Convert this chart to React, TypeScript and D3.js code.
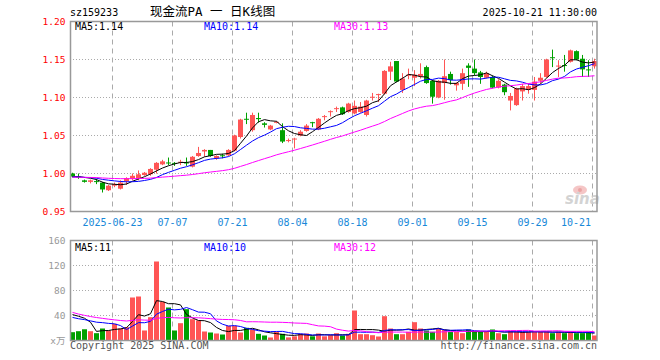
import React from 'react';
import * as d3 from 'd3';

const dates = [
  '2025-06-12','2025-06-13','2025-06-16','2025-06-17','2025-06-18','2025-06-19','2025-06-20',
  '2025-06-23','2025-06-24','2025-06-25','2025-06-26','2025-06-27',
  '2025-06-30','2025-07-01','2025-07-02','2025-07-03','2025-07-04',
  '2025-07-07','2025-07-08','2025-07-09','2025-07-10','2025-07-11',
  '2025-07-14','2025-07-15','2025-07-16','2025-07-17','2025-07-18',
  '2025-07-21','2025-07-22','2025-07-23','2025-07-24','2025-07-25',
  '2025-07-28','2025-07-29','2025-07-30','2025-07-31','2025-08-01',
  '2025-08-04','2025-08-05','2025-08-06','2025-08-07','2025-08-08',
  '2025-08-11','2025-08-12','2025-08-13','2025-08-14','2025-08-15',
  '2025-08-18','2025-08-19','2025-08-20','2025-08-21','2025-08-22',
  '2025-08-25','2025-08-26','2025-08-27','2025-08-28','2025-08-29',
  '2025-09-01','2025-09-02','2025-09-03','2025-09-04','2025-09-05',
  '2025-09-08','2025-09-09','2025-09-10','2025-09-11','2025-09-12',
  '2025-09-15','2025-09-16','2025-09-17','2025-09-18','2025-09-19',
  '2025-09-22','2025-09-23','2025-09-24','2025-09-25','2025-09-26',
  '2025-09-29','2025-09-30',
  '2025-10-09','2025-10-10',
  '2025-10-13','2025-10-14','2025-10-15','2025-10-16','2025-10-17',
  '2025-10-20','2025-10-21',
];

const opens = [
  1.000,0.996,0.991,0.989,0.990,0.988,0.978,0.984,0.980,0.990,
  0.993,0.993,0.998,0.999,1.005,1.012,1.0145,1.014,1.015,1.0145,
  1.009,1.023,1.029,1.031,1.020,1.024,1.024,1.030,1.048,1.072,
  1.057,1.073,1.066,1.058,1.067,1.057,1.043,1.045,1.050,1.056,
  1.0675,1.058,1.075,1.081,1.085,1.087,1.081,1.079,1.081,1.077,
  1.100,1.1035,1.105,1.134,1.148,1.110,1.129,1.126,1.128,1.140,
  1.122,1.100,1.119,1.131,1.116,1.118,1.142,1.138,1.133,1.126,
  1.127,1.113,1.117,1.096,1.090,1.108,1.110,1.110,1.122,1.127,
  1.153,1.141,1.1427,1.147,1.161,1.151,1.137,1.141,
];
const highs = [
  1.001,1.000,0.992,0.992,0.993,0.989,0.985,0.988,0.991,0.995,
  1.000,1.004,1.002,1.007,1.015,1.018,1.021,1.015,1.018,1.021,
  1.023,1.035,1.032,1.031,1.024,1.026,1.032,1.051,1.072,1.080,
  1.080,1.080,1.0675,1.064,1.069,1.066,1.046,1.047,1.057,1.065,
  1.068,1.073,1.077,1.083,1.088,1.088,1.093,1.096,1.094,1.097,
  1.106,1.105,1.136,1.147,1.148,1.132,1.138,1.136,1.145,1.142,
  1.123,1.123,1.150,1.134,1.120,1.138,1.145,1.150,1.135,1.134,
  1.129,1.124,1.118,1.106,1.113,1.118,1.118,1.127,1.132,1.151,
  1.163,1.149,1.156,1.163,1.162,1.156,1.149,1.151,
];
const lows = [
  0.995,0.993,0.988,0.987,0.986,0.975,0.977,0.982,0.979,0.985,
  0.991,0.991,0.997,0.997,1.000,1.011,1.011,1.010,1.011,1.010,
  1.008,1.022,1.022,1.022,1.018,1.020,1.023,1.029,1.046,1.065,
  1.055,1.067,1.0605,1.057,1.066,1.040,1.041,1.033,1.049,1.055,
  1.061,1.057,1.070,1.075,1.081,1.077,1.080,1.078,1.080,1.075,
  1.096,1.094,1.104,1.123,1.120,1.106,1.124,1.115,1.125,1.118,
  1.092,1.099,1.097,1.117,1.109,1.110,1.114,1.129,1.118,1.125,
  1.112,1.112,1.103,1.083,1.089,1.096,1.105,1.096,1.118,1.126,
  1.140,1.127,1.134,1.146,1.149,1.127,1.127,1.138,
];
const closes = [
  0.996,0.995,0.989,0.991,0.989,0.979,0.984,0.986,0.988,0.994,
  0.997,0.999,1.001,1.006,1.014,1.016,1.014,1.013,1.0155,1.014,
  1.022,1.027,1.031,1.023,1.023,1.0235,1.031,1.050,1.071,1.071,
  1.077,1.0715,1.064,1.063,1.068,1.042,1.044,1.046,1.055,1.063,
  1.067,1.072,1.0755,1.082,1.086,1.078,1.092,1.089,1.088,1.096,
  1.101,1.1045,1.135,1.141,1.121,1.125,1.130,1.130,1.131,1.119,
  1.101,1.122,1.128,1.123,1.119,1.132,1.139,1.132,1.127,1.132,
  1.113,1.122,1.107,1.102,1.112,1.115,1.115,1.121,1.126,1.150,
  1.152,1.142,1.142,1.162,1.150,1.137,1.1365,1.148,
];
const volumes = [
  13.3,14.9,18,14.9,11.7,19.2,16,26.7,19.2,21.3,
  68.8,70.4,16,37.3,126.4,61.9,52.8,16,27.7,50.1,
  34.1,32,14.4,12.8,11.2,9.6,23.5,23.5,12.8,20.3,
  17.6,10.7,8,4.8,13.9,10.7,5,6.7,10.7,11.2,
  6.7,11.2,6.7,8.5,11.7,8,10.7,48,10.1,10.1,
  8.5,6.4,38.9,19.2,10.1,10.1,13.9,29.3,19.2,16,
  13.9,19.7,17,13.9,13.9,11.7,17.6,13.9,13.9,13.9,
  17.6,11.7,10.1,15.5,13.9,13.9,13.9,13.9,13.9,13.9,
  11.7,13.9,11.7,13.9,11.7,11.7,13.9,8,
];
// sessions before the visible window (needed for the moving averages)
const priorCloses = [
  0.998,0.996,0.995,0.994,0.995,0.996,0.995,0.994,0.995,0.996,
  0.995,0.994,0.995,0.995,0.996,0.995,0.994,0.995,0.996,0.995,
  0.994,0.995,0.995,0.996,0.995,0.994,0.995,0.996,0.998,
];
const priorVolumes = [
  95,80,72,60,58,55,60,50,
  45,40,38,35,42,36,33,38,34,37,36,36,
  36,32,35,33,
  26,28,34,47,85,
];

const priceTicks = [0.95, 1.0, 1.05, 1.1, 1.15, 1.2];
const volumeTicks = [40, 80, 120, 160];
const tickDates = ['2025-06-23','2025-07-07','2025-07-21','2025-08-04','2025-08-18','2025-09-01','2025-09-15','2025-09-29','2025-10-21'];
const maPeriods = [5, 10, 30];
const priceMaLabels = ['1.14', '1.14', '1.13'];
const volumeMaLabels = ['11', '10', '12'];
const stockCode = 'sz159233';
const title = '现金流PA 一 日K线图';
const timestamp = '2025-10-21 11:30:00';

const RED = '#ff5555';
const GREEN = '#00a000';
const MA_COLORS = ['#000000', '#0000ff', '#ff00ff'];
const GRID = '#aaaaaa';
const FRAME = '#999999';
const MONO = 'DejaVu Sans Mono, monospace';

function movingAvg(vals: number[], prior: number[], n: number): number[] {
  const all = prior.concat(vals);
  const off = prior.length;
  return vals.map((_, i) => d3.mean(all.slice(i + off - n + 1, i + off + 1)) as number);
}

export default function App() {
  const n = dates.length;
  const L = 70, R = 597;
  const step = 6;
  const x = d3.scaleBand<number>().domain(d3.range(n)).range([L, L + step * n]);
  const bw = 5;
  const yP = d3.scaleLinear().domain([0.95, 1.2]).range([211.5, 21.5]);
  const yV = d3.scaleLinear().domain([0, 160]).range([340.5, 240.5]);
  const cx = (i: number) => (x(i) as number) + 2.5;

  const priceMA = maPeriods.map((p) => movingAvg(closes, priorCloses, p));
  const volMA = maPeriods.map((p) => movingAvg(volumes, priorVolumes, p));
  const lineP = d3.line<number>().x((_, i) => cx(i)).y((d) => yP(d));
  const lineV = d3.line<number>().x((_, i) => cx(i)).y((d) => yV(d));

  const pTop = yP(1.2), pBot = yP(0.95);
  const vTop = yV(160), vBot = yV(0);

  const tickIdx = tickDates.map((d) => dates.indexOf(d));

  return (
    <svg width={660} height={360} style={{ position: 'absolute', left: 0, top: 0, background: '#fff' }}
      fontFamily={MONO}>
      {/* header */}
      <text x={70} y={16} fontSize={10} fill="#000">{stockCode}</text>
      <text x={150} y={16} fontSize={12.5} fill="#000" fontFamily="DejaVu Sans Mono, Noto Sans CJK SC">{title}</text>
      <text x={597} y={16} fontSize={10} fill="#000" textAnchor="end">{timestamp}</text>

      {/* price grid */}
      {priceTicks.filter((t) => t > 0.95 && t < 1.2).map((t) => (
        <line key={'pg' + t} x1={L} x2={R} y1={yP(t)} y2={yP(t)} stroke={GRID} strokeDasharray="1,2" />
      ))}
      {volumeTicks.filter((t) => t < 160).map((t) => (
        <line key={'vg' + t} x1={L} x2={R} y1={yV(t)} y2={yV(t)} stroke={GRID} strokeDasharray="1,2" />
      ))}
      {tickIdx.map((i) => (
        <g key={'vx' + i}>
          <line x1={(x(i) as number) + 0.5} x2={(x(i) as number) + 0.5} y1={pTop} y2={pBot} stroke={GRID} strokeDasharray="5,4" />
          <line x1={(x(i) as number) + 0.5} x2={(x(i) as number) + 0.5} y1={vTop} y2={vBot} stroke={GRID} strokeDasharray="5,4" />
        </g>
      ))}

      {/* watermark */}
      <g opacity={0.9}>
        <ellipse cx={580} cy={190} rx={7} ry={4.5} fill="#f4c0c0" />
        <circle cx={580} cy={190} r={2} fill="#e89a9a" />
        <text x={565} y={204} fontSize={15} fontStyle="italic" fontWeight="bold" fill="#cfcfcf" fontFamily="DejaVu Sans, sans-serif">sina</text>
      </g>

      {/* candles */}
      {closes.map((c, i) => {
        const o = opens[i];
        const up = c >= o;
        const col = up ? RED : GREEN;
        const x0 = x(i) as number;
        const yT = yP(Math.max(o, c));
        const yB = yP(Math.min(o, c));
        return (
          <g key={'c' + i}>
            <line x1={x0 + 2.5} x2={x0 + 2.5} y1={yP(highs[i])} y2={yP(lows[i])} stroke={col} />
            <rect x={x0} y={yT} width={bw} height={Math.max(1, yB - yT)} fill={col} />
          </g>
        );
      })}
      {priceMA.map((s, k) => (
        <path key={'pm' + k} d={lineP(s) as string} fill="none" stroke={MA_COLORS[k]} strokeWidth={1} />
      ))}

      {/* volume */}
      {volumes.map((v, i) => {
        const up = closes[i] >= opens[i];
        return <rect key={'v' + i} x={x(i) as number} y={yV(v)} width={bw} height={vBot - yV(v)} fill={up ? RED : GREEN} />;
      })}
      {volMA.map((s, k) => (
        <path key={'vm' + k} d={lineV(s) as string} fill="none" stroke={MA_COLORS[k]} strokeWidth={1} />
      ))}

      {/* frames */}
      <rect x={70.5} y={pTop} width={R - 70.5} height={pBot - pTop} fill="none" stroke={FRAME} strokeWidth={1.5} />
      <rect x={70.5} y={vTop} width={R - 70.5} height={vBot - vTop} fill="none" stroke={FRAME} strokeWidth={1.5} />

      {/* price axis labels */}
      {priceTicks.map((t) => (
        <text key={'pl' + t} x={65.5} y={yP(t) + 3.5} fontSize={9.5} fill="#ff0000" textAnchor="end">{t.toFixed(2)}</text>
      ))}
      {volumeTicks.map((t) => (
        <text key={'vl' + t} x={65.5} y={yV(t) + 3.5} fontSize={9.5} fill="#999999" textAnchor="end">{t}</text>
      ))}
      <text x={65.5} y={344} fontSize={9.5} fill="#999999" textAnchor="end" fontFamily="DejaVu Sans Mono, Noto Sans CJK SC">x万</text>

      {/* date labels */}
      {tickIdx.map((i, k) => {
        const label = k === 0 ? tickDates[k] : tickDates[k].slice(5);
        const c = Math.min((x(i) as number) + 0.5, 576);
        return <text key={'dl' + i} x={c} y={225.5} fontSize={10} fill="#1888d8" textAnchor="middle">{label}</text>;
      })}

      {/* MA legends */}
      {[75, 204, 334].map((lx, k) => (
        <text key={'pml' + k} x={lx} y={30} fontSize={10} fill={MA_COLORS[k]}>{`MA${maPeriods[k]}:${priceMaLabels[k]}`}</text>
      ))}
      {[75, 204, 334].map((lx, k) => (
        <text key={'vml' + k} x={lx} y={250.5} fontSize={10} fill={MA_COLORS[k]}>{`MA${maPeriods[k]}:${volumeMaLabels[k]}`}</text>
      ))}

      {/* footer */}
      <text x={70} y={349} fontSize={10} fill="#555555">Copyright 2025 SINA.COM</text>
      <text x={597} y={349} fontSize={10} fill="#555555" textAnchor="end">http://finance.sina.com.cn</text>
    </svg>
  );
}
